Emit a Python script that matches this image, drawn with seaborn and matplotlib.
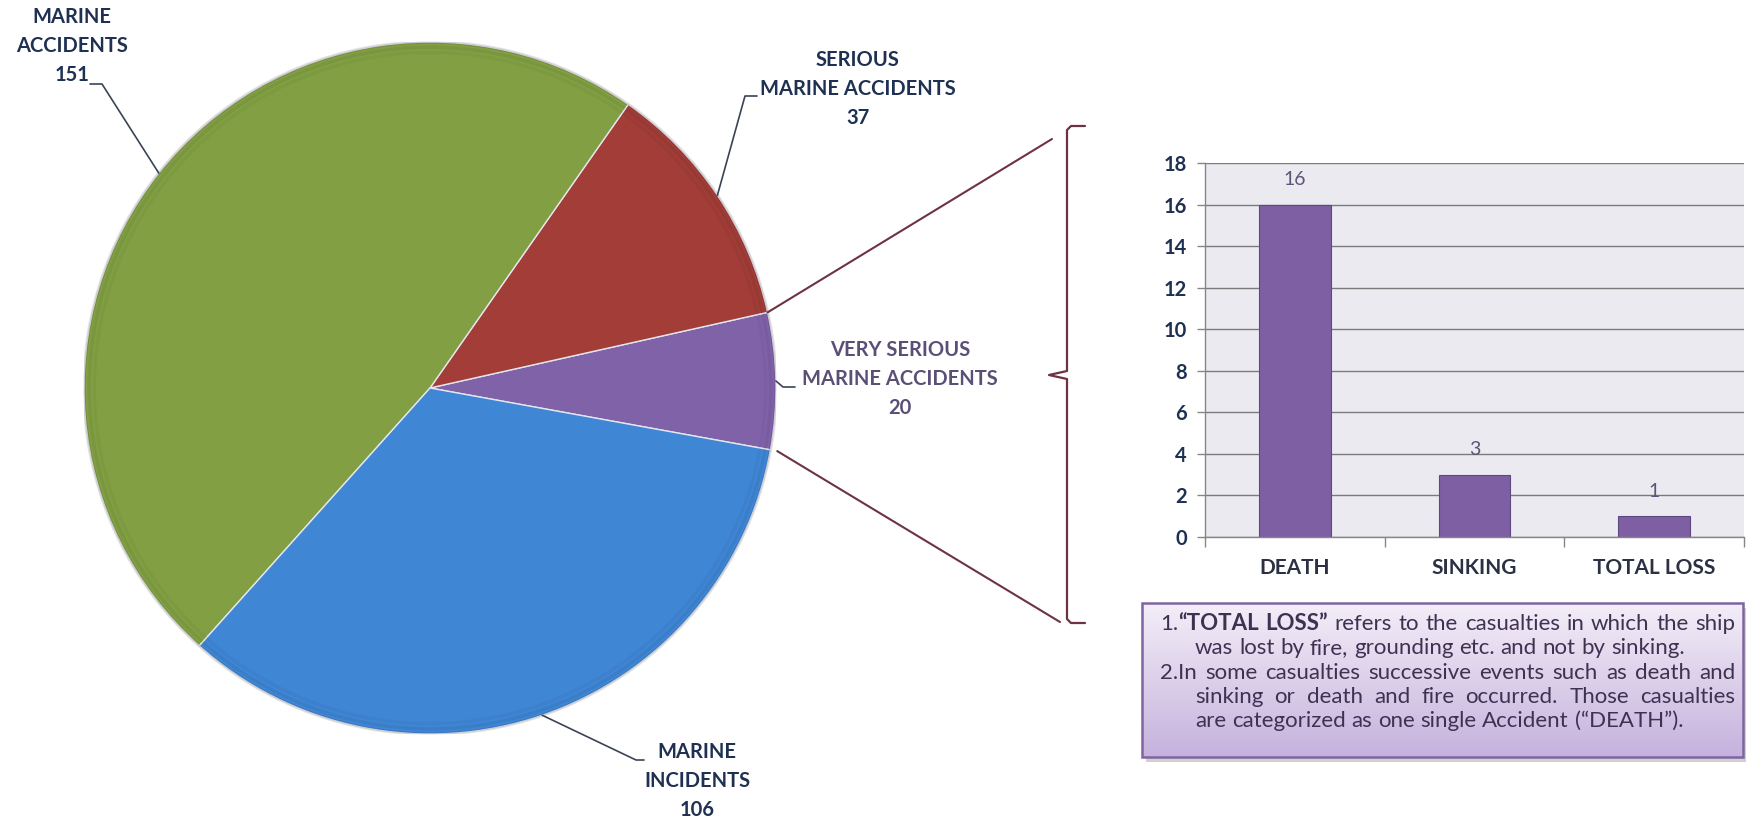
import numpy as np
import matplotlib
matplotlib.use('Agg')
import matplotlib.pyplot as plt
import seaborn as sns
from matplotlib.colors import LinearSegmentedColormap

sns.set_theme(style='white')
plt.rcParams['font.family'] = ['Lato', 'DejaVu Sans']

# pie data, drawn counter-clockwise in this order
pie_names = ['VERY SERIOUS\nMARINE ACCIDENTS', 'SERIOUS\nMARINE ACCIDENTS',
             'MARINE\nACCIDENTS', 'MARINE\nINCIDENTS']
pie_values = [20, 37, 151, 106]
pie_colors = ['#8062A9', '#A23D38', '#82A043', '#3F86D5']

# bar data (breakdown of the very serious accidents)
bar_categories = ['DEATH', 'SINKING', 'TOTAL LOSS']
bar_values = [16, 3, 1]
y_ticks = [0, 2, 4, 6, 8, 10, 12, 14, 16, 18]

# notes box, (text, bold) segments per line
note_lines = [
    [('1.', False), ('“TOTAL LOSS”', True), (' refers to the casualties in which the ship', False)],
    [('was lost by fire, grounding etc. and not by sinking.', False)],
    [('2.In some casualties successive events such as death and', False)],
    [('sinking or death and fire occurred. Those casualties', False)],
    [('are categorized as one single Accident (“DEATH”).', False)],
]

W, H = 1746, 823
fig = plt.figure(figsize=(W / 100, H / 100), dpi=100)

# overlay in pixel coordinates for annotations
ov = fig.add_axes([0, 0, 1, 1], zorder=5)
ov.set_xlim(0, W)
ov.set_ylim(H, 0)
ov.axis('off')
ov.patch.set_alpha(0)

# ---- pie ----
cx, cy, r = 430, 388, 346
start = -10.3
ax_pie = fig.add_axes([(cx - r) / W, 1 - (cy + r) / H, 2 * r / W, 2 * r / H])
ax_pie.pie(pie_values, colors=pie_colors, startangle=start, counterclock=True, radius=1,
           wedgeprops=dict(edgecolor='#e6e6ee', linewidth=1.0))
# soft rim shading
for k, a in [(1.0, 0.10), (0.985, 0.06), (0.97, 0.03)]:
    ax_pie.add_patch(plt.Circle((0, 0), k, fill=False, edgecolor='black', lw=2.5, alpha=a))
ax_pie.set_xlim(-1, 1)
ax_pie.set_ylim(-1, 1)

total = sum(pie_values)
edges = start + np.cumsum([0] + pie_values) / total * 360
mids = (edges[:-1] + edges[1:]) / 2

def on_pie(angle, k=1.0):
    a = np.deg2rad(angle)
    return cx + k * r * np.cos(a), cy - k * r * np.sin(a)

navy = '#1F3152'
lead = '#3a4455'

# label layout: (centre x, first line y, line step, elbow, end of horizontal, colour)
label_layout = [
    (900, 350, 29, (783, 387), (795, 387), '#5B4F78'),
    (858, 60, 29, (745, 96), (757, 96), navy),
    (72, 17, 29, (102, 84), (90, 84), navy),
    (697, 752, 29, (636, 760), (644, 760), navy),
]
for name, val, mid, (lx, ly, step, elbow, hend, col) in zip(pie_names, pie_values, mids, label_layout):
    lines = name.split('\n') + [str(val)]
    for i, s in enumerate(lines):
        ov.text(lx, ly + i * step, s, ha='center', va='center', fontsize=14.5,
                fontweight='bold', color=col)
    px, py = on_pie(mid)
    ov.plot([px, elbow[0], hend[0]], [py, elbow[1], hend[1]], color=lead, lw=1.2)

# connectors from the very serious slice to the bracket
maroon = '#6d3342'
ux, uy = on_pie(edges[1], 1.0)
lx_, ly_ = on_pie(edges[0], 1.02)
ov.plot([ux, 1052], [uy, 139], color=maroon, lw=1.5)
ov.plot([lx_, 1060], [ly_, 622], color=maroon, lw=1.5)

# bracket
bx, btop, bbot, bmid = 1067, 126, 623, 375
ov.plot([1085, 1071, bx, bx, 1049, bx, bx, 1071, 1085],
        [btop, btop, btop + 4, bmid - 4, bmid, bmid + 4, bbot - 4, bbot, bbot],
        color=maroon, lw=1.6, solid_joinstyle='round')

# ---- bar chart ----
x0, x1, y_top, y_bot = 1205, 1744, 163, 537
bax = fig.add_axes([x0 / W, 1 - y_bot / H, (x1 - x0) / W, (y_bot - y_top) / H])
bax.set_facecolor('#ECEAF1')
sns.barplot(x=bar_categories, y=bar_values, color='#7F5FA3', saturation=1, width=0.4,
            edgecolor='#5E4880', linewidth=0.8, ax=bax)
bax.bar_label(bax.containers[0], padding=12, fontsize=14, color='#5F5475')
bax.set_xlim(-0.5, 2.5)
bax.set_ylim(0, 18)
bax.set_yticks(y_ticks)
bax.yaxis.grid(True, color='#7a7a7a', lw=1)
bax.set_axisbelow(True)
bax.set_xlabel('')
bax.set_ylabel('')
for s in ['top', 'right']:
    bax.spines[s].set_visible(False)
for s in ['left', 'bottom']:
    bax.spines[s].set_color('#868686')
    bax.spines[s].set_linewidth(1)
bax.tick_params(axis='y', which='major', length=6, width=1, color='#868686', left=True,
                labelsize=14.5, labelcolor=navy, pad=7)
bax.tick_params(axis='x', which='major', length=0, labelsize=15, labelcolor='#2B3142', pad=15)
bax.set_xticks([-0.5, 0.5, 1.5, 2.5], minor=True)
bax.tick_params(axis='x', which='minor', length=7, width=1, color='#868686', bottom=True)
for t in bax.get_yticklabels() + bax.get_xticklabels():
    t.set_fontweight('bold')

# ---- notes box ----
nx0, nx1, ny0, ny1 = 1142, 1743, 603, 757
ov.add_patch(plt.Rectangle((nx0 + 4, ny0 + 5), nx1 - nx0, ny1 - ny0, color='#9a9a9a',
                           alpha=0.45, lw=0, zorder=1))
grad = LinearSegmentedColormap.from_list('box', ['#F3EEF8', '#C6B2DD'])
ov.imshow(np.linspace(0, 1, 100).reshape(-1, 1), cmap=grad, aspect='auto',
          extent=[nx0, nx1, ny1, ny0], zorder=2)
ov.add_patch(plt.Rectangle((nx0, ny0), nx1 - nx0, ny1 - ny0, fill=False,
                           edgecolor='#8064A2', lw=1.8, zorder=3))
ov.set_xlim(0, W)
ov.set_ylim(H, 0)

renderer = fig.canvas.get_renderer()
note_kw = dict(color='#3F3151', va='center', zorder=4)

def text_width(s, weight, size):
    t = ov.text(0, 0, s, fontweight=weight, fontsize=size, **note_kw)
    w = t.get_window_extent(renderer).width
    t.remove()
    return w

def split_words(segments):
    words = []
    for text, bold in segments:
        weight = 'bold' if bold else 'normal'
        for i, p in enumerate(text.split(' ')):
            if i > 0 or not words:
                words.append([])
            if p:
                words[-1].append((p, weight))
    return [w for w in words if w]

# size the note text so the second line spans like in the original
probe = text_width(note_lines[1][0][0], 'normal', 10)
note_size = 10 * (1682 - 1195) / probe

def draw_note(segments, xa, xb, y, justify, size):
    words = split_words(segments)
    space_w = text_width('a a', 'normal', size) - text_width('aa', 'normal', size)
    widths = [sum(text_width(p, wt, size) for p, wt in w) for w in words]
    gap = space_w
    if justify and len(words) > 1:
        gap = max((xb - xa - sum(widths)) / (len(words) - 1), 0.6 * space_w)
    x = xa
    for w, ww in zip(words, widths):
        for p, wt in w:
            ov.text(x, y, p, fontweight=wt, fontsize=size, ha='left', **note_kw)
            x += text_width(p, wt, size)
        x += gap

note_y = [624, 648, 673, 697, 721]
note_x = [1160, 1195, 1160, 1195, 1195]
note_justify = [True, False, True, True, False]
for seg, y, xs, j in zip(note_lines, note_y, note_x, note_justify):
    draw_note(seg, xs, 1735, y, j, note_size)

fig.savefig('out.png', dpi=100)
